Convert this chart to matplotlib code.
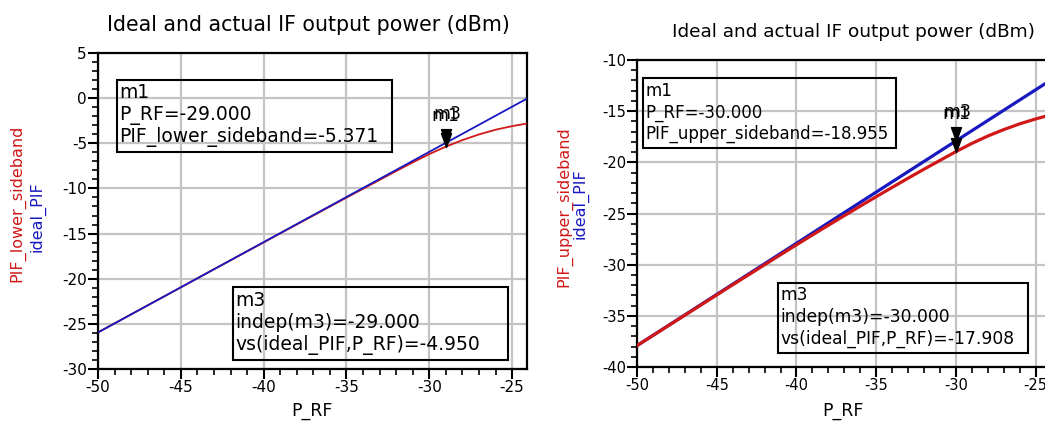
import matplotlib
matplotlib.use("Agg")
import matplotlib.pyplot as plt
from matplotlib.path import Path
from matplotlib.patches import Rectangle
from matplotlib.ticker import MultipleLocator

# ---------------- data ----------------
p_rf = [-50, -49, -48, -47, -46, -45, -44, -43, -42, -41, -40, -39, -38, -37,
        -36, -35, -34, -33, -32, -31, -30, -29, -28, -27, -26, -25, -24]

ideal_pif_lower = [-25.95, -24.95, -23.95, -22.95, -21.95, -20.95, -19.95, -18.95,
                   -17.95, -16.95, -15.95, -14.95, -13.95, -12.95, -11.95, -10.95,
                   -9.95, -8.95, -7.95, -6.95, -5.95, -4.95, -3.95, -2.95, -1.95,
                   -0.95, 0.05]
pif_lower_sideband = [-25.95, -24.95, -23.95, -22.95, -21.96, -20.96, -19.96, -18.96,
                      -17.97, -16.97, -15.98, -14.98, -13.99, -13.00, -12.01, -11.02,
                      -10.04, -9.06, -8.08, -7.12, -6.20, -5.37, -4.65, -4.02, -3.50,
                      -3.10, -2.78]

ideal_pif_upper = [-37.91, -36.91, -35.91, -34.91, -33.91, -32.91, -31.91, -30.91,
                   -29.91, -28.91, -27.91, -26.91, -25.91, -24.91, -23.91, -22.91,
                   -21.91, -20.91, -19.91, -18.91, -17.91, -16.91, -15.91, -14.91,
                   -13.91, -12.91, -11.91]
pif_upper_sideband = [-37.91, -36.92, -35.93, -34.94, -33.95, -32.96, -31.97, -30.99,
                      -30.01, -29.03, -28.06, -27.10, -26.15, -25.21, -24.28, -23.36,
                      -22.45, -21.55, -20.67, -19.81, -18.955, -18.15, -17.43, -16.80,
                      -16.24, -15.76, -15.34]

x_ticks = [-50, -45, -40, -35, -30, -25]
y_ticks_left = [5, 0, -5, -10, -15, -20, -25, -30]
y_ticks_right = [-10, -15, -20, -25, -30, -35, -40]

title = "Ideal and actual IF output power (dBm)"

m_left_x, m_left_act, m_left_ideal = -29.0, -5.371, -4.950
m_right_x, m_right_act, m_right_ideal = -30.0, -18.955, -17.908

left_m1_lines = ["m1", "P_RF=-29.000", "PIF_lower_sideband=-5.371"]
left_m3_lines = ["m3", "indep(m3)=-29.000", "vs(ideal_PIF,P_RF)=-4.950"]
right_m1_lines = ["m1", "P_RF=-30.000", "PIF_upper_sideband=-18.955"]
right_m3_lines = ["m3", "indep(m3)=-30.000", "vs(ideal_PIF,P_RF)=-17.908"]

# ---------------- style ----------------
W, H = 1045, 428
plt.rcParams['font.family'] = ['DejaVu Sans']
plt.rcParams['axes.unicode_minus'] = False
fig = plt.figure(figsize=(W / 100, H / 100), dpi=100)

RED = "#d01818"
BLUE = "#1818c0"
GRID = "#c4c4c4"

tri = Path([(-0.36, 1.0), (0.36, 1.0), (0.0, 0.0), (-0.36, 1.0)],
           [Path.MOVETO, Path.LINETO, Path.LINETO, Path.CLOSEPOLY])


def px_axes(x0, x1, ytop, ybot):
    return fig.add_axes([x0 / W, (H - ybot) / H, (x1 - x0) / W, (ybot - ytop) / H])


def style(ax, xlim, ylim, yt, fs=11):
    ax.set_xlim(*xlim)
    ax.set_ylim(*ylim)
    ax.set_xticks(x_ticks)
    ax.set_yticks(yt)
    ax.xaxis.set_minor_locator(MultipleLocator(1))
    ax.yaxis.set_minor_locator(MultipleLocator(1))
    ax.tick_params(which='major', direction='out', length=7, width=1.5,
                   labelsize=fs, pad=1)
    ax.tick_params(which='minor', direction='out', length=4, width=1.2)
    ax.grid(True, which='major', color=GRID, lw=1.6)
    ax.set_axisbelow(True)
    for s in ax.spines.values():
        s.set_linewidth(1.6)
        s.set_color('black')


def box(ax, x0, x1, ytop, ybot, lines, fs=13.5):
    ax.add_patch(Rectangle((x0, ybot), x1 - x0, ytop - ybot, transform=ax.transAxes,
                           fill=False, ec='black', lw=1.5, zorder=6, clip_on=False))
    h = ytop - ybot
    for i, t in enumerate(lines):
        ax.text(x0 + 0.006, ytop - h * (0.18 + 0.31 * i), t, transform=ax.transAxes,
                ha='left', va='center', fontsize=fs, zorder=7)


def markers(ax, x, y_act, y_ideal):
    ax.plot([x], [y_ideal], marker=tri, ms=20, color='black', zorder=8, clip_on=False)
    ax.plot([x], [y_act], marker=tri, ms=20, color='black', zorder=8, clip_on=False)
    ax.annotate("m1", (x, y_ideal), xytext=(0, 13), textcoords='offset points',
                ha='center', va='bottom', fontsize=12.5, zorder=9)
    ax.annotate("m3", (x, y_ideal), xytext=(1, 14), textcoords='offset points',
                ha='center', va='bottom', fontsize=12.5, zorder=9)


# ---------------- left chart ----------------
axL = px_axes(98, 527, 53, 369)
style(axL, (-50, -24.1), (-30, 5), y_ticks_left)
axL.plot(p_rf, pif_lower_sideband, color=RED, lw=1.3, zorder=3)
axL.plot(p_rf, ideal_pif_lower, color=BLUE, lw=1.3, zorder=4)
markers(axL, m_left_x, m_left_act, m_left_ideal)
box(axL, 0.0434, 0.685, 0.916, 0.687, left_m1_lines)
box(axL, 0.3137, 0.956, 0.2595, 0.0285, left_m3_lines)
fig.text(312 / W, 1 - 411 / H, "P_RF", ha='center', va='center', fontsize=12.5)
fig.text(308 / W, 1 - 25 / H, title, ha='center', va='center', fontsize=14.8)
fig.text(17 / W, 1 - 203 / H, "PIF_lower_sideband", color=RED, rotation=90,
         ha='center', va='center', fontsize=11.5)
fig.text(37 / W, 1 - 217 / H, "ideal_PIF", color=BLUE, rotation=90,
         ha='center', va='center', fontsize=11.5)

# ---------------- right chart ----------------
axR = px_axes(637, 1050, 60, 367)
style(axR, (-50, -24.1), (-40, -10), y_ticks_right, fs=10.5)
axR.plot(p_rf, ideal_pif_upper, color=BLUE, lw=2.3, zorder=3)
axR.plot(p_rf, pif_upper_sideband, color=RED, lw=2.3, zorder=4)
markers(axR, m_right_x, m_right_act, m_right_ideal)
box(axR, 0.0145, 0.627, 0.941, 0.7124, right_m1_lines, fs=12)
box(axR, 0.341, 0.947, 0.2745, 0.0458, right_m3_lines, fs=12.3)
fig.text(843 / W, 1 - 411 / H, "P_RF", ha='center', va='center', fontsize=12.5)
fig.text(854 / W, 1 - 32 / H, title, ha='center', va='center', fontsize=13.3)
fig.text(564 / W, 1 - 207 / H, "PIF_upper_sideband", color=RED, rotation=90,
         ha='center', va='center', fontsize=11.5)
fig.text(580 / W, 1 - 204 / H, "ideal_PIF", color=BLUE, rotation=90,
         ha='center', va='center', fontsize=11.5)

fig.savefig("out.png", dpi=100)
